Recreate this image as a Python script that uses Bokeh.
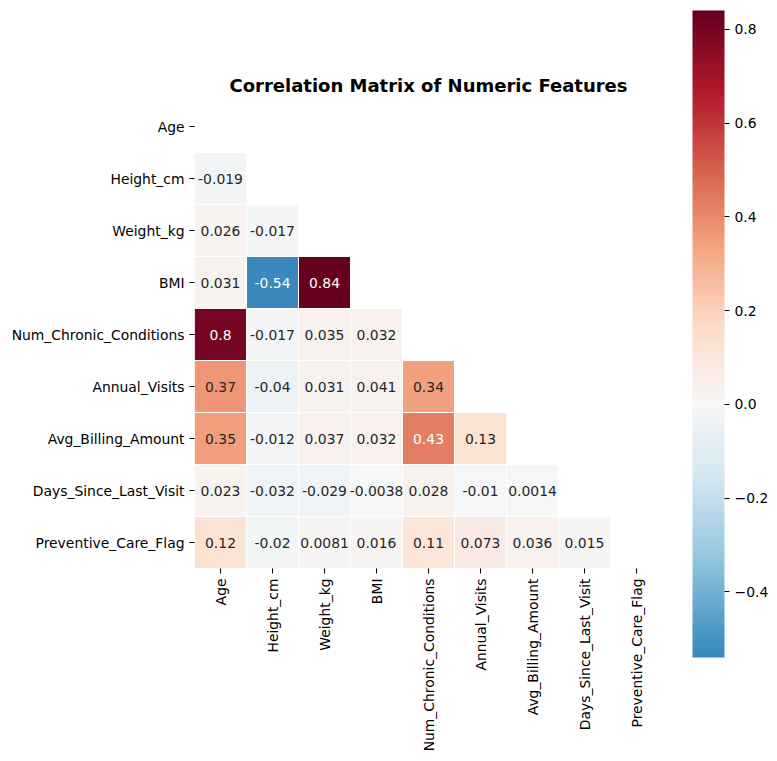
import math
import numpy as np
from bokeh.plotting import figure
from bokeh.models import (ColumnDataSource, FactorRange, LinearColorMapper,
                          FixedTicker, CustomJSTickFormatter, ColorBar)
from bokeh.core.properties import value
from bokeh.embed import file_html
from bokeh.resources import INLINE

# ---------------- data ----------------
FEATURES = ["Age", "Height_cm", "Weight_kg", "BMI", "Num_Chronic_Conditions",
            "Annual_Visits", "Avg_Billing_Amount", "Days_Since_Last_Visit",
            "Preventive_Care_Flag"]

# lower-triangle correlations, row by row (row i vs columns 0..i-1)
ROW_HEIGHT = [-0.019]
ROW_WEIGHT = [0.026, -0.017]
ROW_BMI = [0.031, -0.54, 0.84]
ROW_CHRONIC = [0.8, -0.017, 0.035, 0.032]
ROW_VISITS = [0.37, -0.04, 0.031, 0.041, 0.34]
ROW_BILLING = [0.35, -0.012, 0.037, 0.032, 0.43, 0.13]
ROW_DAYS = [0.023, -0.032, -0.029, -0.0038, 0.028, -0.01, 0.0014]
ROW_PREVENTIVE = [0.12, -0.02, 0.0081, 0.016, 0.11, 0.073, 0.036, 0.015]
LOWER_ROWS = [[], ROW_HEIGHT, ROW_WEIGHT, ROW_BMI, ROW_CHRONIC, ROW_VISITS,
              ROW_BILLING, ROW_DAYS, ROW_PREVENTIVE]

CBAR_TICKS = [-0.4, -0.2, 0.0, 0.2, 0.4, 0.6, 0.8]
TITLE = "Correlation Matrix of Numeric Features"

# ---------------- colormap (RdBu_r, centred at 0 like seaborn) ----------------
RDBU = np.array([
    (0.403921568627451, 0.0, 0.12156862745098039),
    (0.6980392156862745, 0.09411764705882353, 0.16862745098039217),
    (0.8392156862745098, 0.3764705882352941, 0.30196078431372547),
    (0.9568627450980393, 0.6470588235294118, 0.5098039215686274),
    (0.9921568627450981, 0.8588235294117647, 0.7803921568627451),
    (0.9686274509803922, 0.9686274509803922, 0.9686274509803922),
    (0.8196078431372549, 0.8980392156862745, 0.9411764705882353),
    (0.5725490196078431, 0.7725490196078432, 0.8705882352941177),
    (0.2627450980392157, 0.5764705882352941, 0.7647058823529411),
    (0.12941176470588237, 0.4, 0.6745098039215687),
    (0.0196078431372549, 0.18823529411764706, 0.3803921568627451),
])
RDBU_R = RDBU[::-1]
anchor = np.linspace(0, 1, len(RDBU_R))


def rdbu_r(t):
    idx = min(max(int(t * 256), 0), 255)
    s = idx / 255.0
    return tuple(np.interp(s, anchor, RDBU_R[:, k]) for k in range(3))


def to_hex(c):
    return "#%02x%02x%02x" % tuple(int(round(v * 255)) for v in c)


all_vals = [v for r in LOWER_ROWS for v in r]
vmin, vmax = min(all_vals), max(all_vals)
vrange = max(vmax, -vmin)
cmin, cmax = 0.5 + vmin / (2 * vrange), 0.5 + vmax / (2 * vrange)
palette_rgb = [rdbu_r(cmin + (cmax - cmin) * k / 255.0) for k in range(256)]
palette = [to_hex(c) for c in palette_rgb]
mapper = LinearColorMapper(palette=palette, low=vmin, high=vmax)


def lum(c):
    lin = [x / 12.92 if x <= 0.03928 else ((x + 0.055) / 1.055) ** 2.4 for x in c]
    return 0.2126 * lin[0] + 0.7152 * lin[1] + 0.0722 * lin[2]


xs, ys, vals, labels, tcolors = [], [], [], [], []
for i, r in enumerate(LOWER_ROWS):
    for j, v in enumerate(r):
        xs.append(FEATURES[j])
        ys.append(FEATURES[i])
        vals.append(v)
        labels.append(format(v, ".2g"))
        idx = min(int((v - vmin) / (vmax - vmin) * 256), 255)
        tcolors.append("#ffffff" if lum(palette_rgb[idx]) <= 0.408 else "#262626")

src = ColumnDataSource(dict(x=xs, y=ys, v=vals, label=labels, tc=tcolors))

FONT = "DejaVu Sans"

p = figure(width=775, height=759, output_backend="svg", toolbar_location=None,
           x_range=FactorRange(factors=FEATURES),
           y_range=FactorRange(factors=list(reversed(FEATURES))),
           min_border_left=194, min_border_right=113, min_border_top=100,
           min_border_bottom=191, tools="")
p.rect(x="x", y="y", width=1, height=1, source=src,
       fill_color={"field": "v", "transform": mapper},
       line_color="white", line_width=1)
p.text(x="x", y="y", text="label", source=src, text_color="tc",
       text_align="center", text_baseline="middle",
       text_font=value(FONT), text_font_size=value("13.9px"))

p.title.text = TITLE
p.title.align = "center"
p.title.text_font = FONT
p.title.text_font_size = "18px"
p.title.text_font_style = "bold"
p.title.text_color = "#000000"

p.outline_line_color = None
p.grid.grid_line_color = None
for ax in (p.xaxis, p.yaxis):
    ax.axis_line_color = None
    ax.major_tick_line_color = "#000000"
    ax.major_tick_out = 5
    ax.major_tick_in = 0
    ax.major_label_standoff = 5
    ax.major_label_text_font = FONT
    ax.major_label_text_font_size = "13.9px"
    ax.major_label_text_color = "#000000"
p.xaxis.major_label_orientation = math.pi / 2

# ---------------- colour bar ----------------
cbar = ColorBar(color_mapper=mapper, ticker=FixedTicker(ticks=CBAR_TICKS),
                formatter=CustomJSTickFormatter(
                    code="return tick.toFixed(1).replace('-', '\u2212');"),
                width=32, height=647, padding=0, location=(498, -89),
                major_tick_in=0, major_tick_out=5,
                major_tick_line_color="#000000",
                minor_tick_line_color=None, bar_line_color=None,
                border_line_color=None, background_fill_color=None,
                label_standoff=5,
                major_label_text_font=FONT,
                major_label_text_font_size="13.9px",
                major_label_text_color="#000000")
p.add_layout(cbar, "center")

open("out.html", "w").write(file_html(p, INLINE))
